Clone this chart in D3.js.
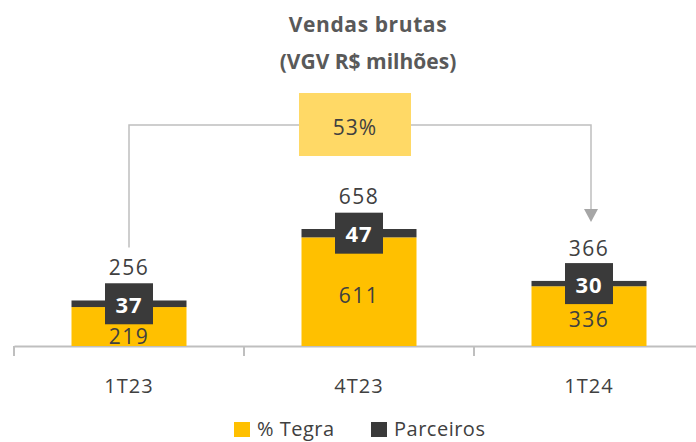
<!DOCTYPE html>
<html>
<head>
    <meta charset="utf-8" />
    <title>Vendas brutas</title>
    <style>
        body { margin: 0; background: #fff; }
        svg text { font-family: "Open Sans", sans-serif; }
    </style>
</head>
<body>
    <script src="https://cdn.jsdelivr.net/npm/d3@7"></script>
    <div id="chart"></div>

    <script>
        // data
        let categories = ['1T23', '4T23', '1T24']
        let tegra = [219, 611, 336]
        let parceiros = [37, 47, 30]
        let totals = [256, 658, 366]
        let growthLabel = '53%'
        let seriesNames = ['% Tegra', 'Parceiros']

        let width = 696,
            height = 442,
            baseY = 346,
            yellow = '#FFC000',
            dark = '#3A3A3A',
            lightYellow = '#FFD966',
            lineGray = '#BFBFBF',
            textColor = '#404040'

        let svg = d3.select('#chart')
                    .append('svg')
                    .attr('width', width)
                    .attr('height', height)

        let x = d3.scaleBand()
                    .domain(categories)
                    .range([14, 704])
                    .paddingInner(0)
                    .paddingOuter(0)

        let y = d3.scaleLinear()
                    .domain([0, 658])
                    .range([baseY, 229])

        let barW = x.bandwidth() * 0.5
        let cx = function (i) { return x(categories[i]) + x.bandwidth() / 2 }

        // title
        svg.append('text')
            .attr('x', 368).attr('y', 32)
            .attr('text-anchor', 'middle')
            .style('font-size', '21px').style('font-weight', 700)
            .style('letter-spacing', '0.6px')
            .style('fill', '#595959')
            .text('Vendas brutas')
        svg.append('text')
            .attr('x', 368).attr('y', 69)
            .attr('text-anchor', 'middle')
            .style('font-size', '21px').style('font-weight', 700)
            .style('fill', '#595959')
            .text('(VGV R$ milhões)')

        // axis
        let xAxis = d3.axisBottom(x).tickSize(0).tickFormat('')
        let axisG = svg.append('g')
                        .attr('transform', `translate(0, ${baseY})`)
                        .call(xAxis)
        axisG.select('.domain').attr('stroke', lineGray).attr('stroke-width', 2)
        let edges = categories.map(function (c) { return x(c) })
        axisG.selectAll('line.sep')
            .data(edges)
            .enter()
            .append('line')
            .classed('sep', true)
            .attr('x1', function (d) { return d }).attr('x2', function (d) { return d })
            .attr('y1', 0).attr('y2', 10)
            .attr('stroke', lineGray).attr('stroke-width', 2)

        svg.selectAll('text.cat')
            .data(categories)
            .enter()
            .append('text')
            .classed('cat', true)
            .attr('x', function (d, i) { return cx(i) })
            .attr('y', 393)
            .attr('text-anchor', 'middle')
            .style('font-size', '20px')
            .style('letter-spacing', '1px')
            .style('fill', textColor)
            .text(function (d) { return d })

        // bars
        let bars = svg.selectAll('g.bar')
                        .data(categories)
                        .enter()
                        .append('g')
                        .classed('bar', true)

        bars.append('rect')
            .attr('x', function (d, i) { return cx(i) - barW / 2 })
            .attr('y', function (d, i) { return y(tegra[i]) })
            .attr('width', barW)
            .attr('height', function (d, i) { return baseY - y(tegra[i]) })
            .style('fill', yellow)

        bars.append('rect')
            .attr('x', function (d, i) { return cx(i) - barW / 2 })
            .attr('y', function (d, i) { return y(totals[i]) })
            .attr('width', barW)
            .attr('height', function (d, i) { return y(tegra[i]) - y(totals[i]) })
            .style('fill', dark)

        // partner label boxes
        let boxW = 48, boxH = 41
        let segMid = function (i) { return (y(totals[i]) + y(tegra[i])) / 2 }

        bars.append('rect')
            .attr('x', function (d, i) { return cx(i) - boxW / 2 })
            .attr('y', function (d, i) { return segMid(i) - boxH / 2 })
            .attr('width', boxW)
            .attr('height', boxH)
            .style('fill', dark)

        bars.append('text')
            .attr('x', function (d, i) { return cx(i) })
            .attr('y', function (d, i) { return segMid(i) + 9 })
            .attr('text-anchor', 'middle')
            .style('font-size', '22px').style('font-weight', 700)
            .style('letter-spacing', '1px')
            .style('fill', '#fff')
            .text(function (d, i) { return parceiros[i] })

        // tegra values
        bars.append('text')
            .attr('x', function (d, i) { return cx(i) })
            .attr('y', function (d, i) {
                let mid = (y(tegra[i]) + baseY) / 2 + 4
                let minY = segMid(i) + boxH / 2 + 13
                return Math.max(mid, minY) + 7
            })
            .attr('text-anchor', 'middle')
            .style('font-size', '21px')
            .style('letter-spacing', '1.5px')
            .style('fill', textColor)
            .text(function (d, i) { return tegra[i] })

        // totals
        bars.append('text')
            .attr('x', function (d, i) { return cx(i) })
            .attr('y', function (d, i) { return y(totals[i]) - 32 + 7 })
            .attr('text-anchor', 'middle')
            .style('font-size', '21px')
            .style('letter-spacing', '1.5px')
            .style('fill', textColor)
            .text(function (d, i) { return totals[i] })

        // growth connector 1T23 -> 1T24
        let lineY = 125
        let x0 = cx(0), x1 = cx(2)
        let startY = y(totals[0]) - 53
        let tipY = y(totals[2]) - 59

        svg.append('path')
            .attr('d', `M${x0},${startY} V${lineY} H${x1 + 2} V${tipY - 12}`)
            .attr('fill', 'none')
            .attr('stroke', lineGray)
            .attr('stroke-width', 1.5)

        svg.append('path')
            .attr('d', `M${x1 + 2 - 7},${tipY - 13} L${x1 + 2 + 7},${tipY - 13} L${x1 + 2},${tipY} Z`)
            .style('fill', '#A6A6A6')

        let gx = x(categories[1]) + x.bandwidth() / 2 - 4
        svg.append('rect')
            .attr('x', gx - 56).attr('y', 93)
            .attr('width', 112).attr('height', 63)
            .style('fill', lightYellow)
        svg.append('text')
            .attr('x', gx).attr('y', 135)
            .attr('text-anchor', 'middle')
            .style('font-size', '21px')
            .style('letter-spacing', '1px')
            .style('fill', textColor)
            .text(growthLabel)

        // legend
        let legend = svg.append('g').attr('transform', 'translate(234, 421)')
        let legendX = [0, 137]
        let legendColors = [yellow, dark]
        seriesNames.forEach(function (name, i) {
            legend.append('rect')
                .attr('x', legendX[i]).attr('y', 1)
                .attr('width', 16).attr('height', 15)
                .style('fill', legendColors[i])
            legend.append('text')
                .attr('x', legendX[i] + 23).attr('y', 15)
                .style('font-size', '20px')
                .style('letter-spacing', '0.5px')
                .style('fill', textColor)
                .text(name)
        })
    </script>
</body>
</html>
